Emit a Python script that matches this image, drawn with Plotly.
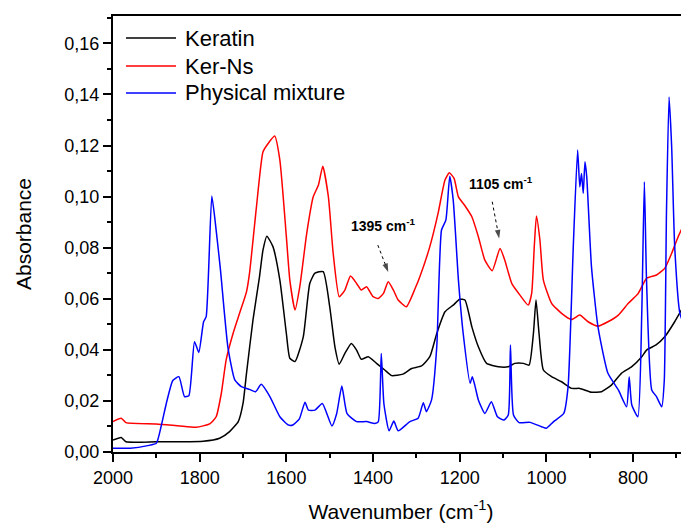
import plotly.graph_objects as go

# ---- data (wavenumber cm-1, absorbance) ----
keratin = [(2000,0.0047),(1981,0.0057),(1970,0.0040),(1900,0.0040),(1846,0.0040),(1792,0.0042),
           (1754,0.0054),(1731,0.0080),(1711,0.0119),(1700,0.0190),(1692,0.0308),(1677,0.0517),
           (1662,0.0686),(1654,0.0790),(1645,0.0845),(1631,0.0804),(1615,0.0673),(1600,0.0464),
           (1592,0.0367),(1580,0.0354),(1561,0.0451),(1546,0.0660),(1534,0.0700),(1515,0.0706),
           (1500,0.0569),(1488,0.0412),(1478,0.0344),(1465,0.0386),(1450,0.0425),(1438,0.0399),
           (1427,0.0363),(1411,0.0373),(1392,0.0347),(1373,0.0321),(1357,0.0299),(1331,0.0305),
           (1311,0.0327),(1288,0.0337),(1269,0.0373),(1253,0.0464),(1234,0.0549),(1215,0.0575),
           (1200,0.0598),(1188,0.0595),(1172,0.0490),(1157,0.0412),(1138,0.0347),(1111,0.0334),
           (1088,0.0334),(1073,0.0347),(1053,0.0347),(1040,0.0340),(1030,0.0464),(1024,0.0595),
           (1017,0.0464),(1007,0.0321),(988,0.0295),(965,0.0275),(942,0.0249),(923,0.0249),
           (896,0.0234),(873,0.0236),(850,0.0262),(827,0.0308),(803,0.0334),(780,0.0373),
           (769,0.0399),(747,0.0419),(727,0.0451),(704,0.0510),(684,0.0569),(671,0.0608)]

ker_ns = [(2000,0.0119),(1981,0.0132),(1970,0.0115),(1900,0.0110),(1846,0.0102),(1808,0.0097),
          (1777,0.0110),(1762,0.0138),(1750,0.0230),(1739,0.0360),(1723,0.0464),(1708,0.0543),
          (1692,0.0627),(1685,0.0700),(1669,0.0960),(1654,0.1175),(1642,0.1208),(1627,0.1237),
          (1615,0.1143),(1600,0.0843),(1592,0.0673),(1580,0.0556),(1569,0.0647),(1553,0.0856),
          (1538,0.0999),(1526,0.1045),(1516,0.1119),(1503,0.0999),(1492,0.0778),(1478,0.0608),
          (1465,0.0634),(1452,0.0689),(1438,0.0660),(1427,0.0634),(1415,0.0647),(1400,0.0608),
          (1388,0.0601),(1376,0.0621),(1365,0.0667),(1353,0.0634),(1342,0.0595),(1323,0.0569),
          (1303,0.0640),(1292,0.0686),(1269,0.0804),(1250,0.0934),(1234,0.1065),(1224,0.1093),
          (1213,0.1071),(1203,0.0999),(1188,0.0964),(1172,0.0921),(1157,0.0843),(1142,0.0751),
          (1125,0.0710),(1107,0.0797),(1096,0.0751),(1080,0.0660),(1061,0.0614),(1042,0.0575),
          (1034,0.0621),(1028,0.0804),(1023,0.0924),(1015,0.0830),(1007,0.0673),(988,0.0582),
          (965,0.0543),(942,0.0519),(923,0.0536),(904,0.0510),(881,0.0493),(858,0.0510),
          (834,0.0536),(811,0.0582),(788,0.0621),(769,0.0680),(746,0.0693),(727,0.0719),
          (711,0.0778),(696,0.0843),(671,0.0934)]

physical_mixture = [(2000,0.0015),(1960,0.0015),(1920,0.0025),(1900,0.0034),(1889,0.0100),(1877,0.0190),
                    (1862,0.0280),(1848,0.0295),(1835,0.0217),(1825,0.0220),(1812,0.0432),(1802,0.0390),
                    (1791,0.0510),(1785,0.0530),(1772,0.1002),(1762,0.0869),(1752,0.0712),(1735,0.0412),
                    (1719,0.0282),(1704,0.0256),(1685,0.0245),(1671,0.0236),(1658,0.0265),(1638,0.0217),
                    (1615,0.0138),(1596,0.0106),(1585,0.0106),(1570,0.0130),(1557,0.0195),(1549,0.0164),
                    (1534,0.0164),(1517,0.0190),(1495,0.0102),(1484,0.0150),(1472,0.0258),(1460,0.0150),
                    (1438,0.0119),(1415,0.0119),(1396,0.0112),(1388,0.0118),(1381,0.0386),(1375,0.0190),
                    (1363,0.0083),(1352,0.0121),(1342,0.0083),(1315,0.0119),(1296,0.0132),(1284,0.0193),
                    (1277,0.0158),(1265,0.0204),(1253,0.0412),(1242,0.0869),(1232,0.0908),(1223,0.1080),
                    (1215,0.0986),(1203,0.0673),(1192,0.0464),(1176,0.0269),(1171,0.0295),(1165,0.0260),
                    (1157,0.0204),(1142,0.0151),(1127,0.0197),(1113,0.0138),(1098,0.0125),(1088,0.0145),
                    (1083,0.0419),(1076,0.0145),(1063,0.0115),(1038,0.0116),(1011,0.0099),(1000,0.0093),
                    (984,0.0118),(960,0.0151),(950,0.0256),(938,0.0804),(928,0.1182),(923,0.1038),
                    (919,0.1090),(915,0.1013),(911,0.1136),(907,0.1078),(896,0.0725),(881,0.0490),
                    (858,0.0308),(834,0.0243),(815,0.0177),(809,0.0295),(803,0.0184),(789,0.0138),
                    (780,0.0543),(774,0.1058),(769,0.0673),(757,0.0243),(746,0.0217),(734,0.0177),
                    (728,0.0282),(723,0.0934),(717,0.1390),(711,0.1195),(704,0.0804),(692,0.0543),
                    (671,0.0451)]

series_names = ["Keratin", "Ker-Ns", "Physical mixture"]
series_data = [keratin, ker_ns, physical_mixture]
series_colors = ["#000000", "#ff0000", "#0000ff"]

x_ticks = [2000, 1800, 1600, 1400, 1200, 1000, 800]
y_ticks = [0.00, 0.02, 0.04, 0.06, 0.08, 0.10, 0.12, 0.14, 0.16]

# peak labels: text, label position, arrow tail, arrow head
peak_labels = ["1395 cm<sup>-1</sup>", "1105 cm<sup>-1</sup>"]
peak_label_pos = [(1375, 0.0888), (1104, 0.1053)]
peak_arrow_tail = [(1389, 0.0810), (1125, 0.0980)]
peak_arrow_head = [(1365, 0.0705), (1109, 0.0836)]

FONT = "Liberation Sans, Arial, sans-serif"

fig = go.Figure()
for name, data, color in zip(series_names, series_data, series_colors):
    wn, ab = zip(*data)
    fig.add_trace(go.Scatter(x=list(wn), y=list(ab), mode="lines", name=name,
                             line=dict(color=color, width=1.5, shape="spline", smoothing=0.5),
                             showlegend=False))

# manual legend (long line samples like the original)
legend_rows = [0.9495, 0.8853, 0.8234]
for name, color, yy in zip(series_names, series_colors, legend_rows):
    fig.add_shape(type="line", xref="paper", yref="paper", x0=0.0226, x1=0.1094, y0=yy, y1=yy,
                  line=dict(color=color, width=1.5))
    fig.add_annotation(xref="paper", yref="paper", x=0.1215, y=yy, text=name, showarrow=False,
                       xanchor="left", yanchor="middle", font=dict(family=FONT, size=22, color="black"))

# peak annotations with dotted arrows
for txt, pos, tail, head in zip(peak_labels, peak_label_pos, peak_arrow_tail, peak_arrow_head):
    fig.add_annotation(x=pos[0], y=pos[1], text="<b>" + txt + "</b>", showarrow=False,
                       xanchor="center", yanchor="middle",
                       font=dict(family=FONT, size=14, color="black"), xref="x", yref="y")
    fig.add_trace(go.Scatter(x=[tail[0], head[0]], y=[tail[1], head[1]], mode="lines+markers",
                             line=dict(color="black", width=1, dash="dot"),
                             marker=dict(symbol="arrow", size=[0, 9], angleref="previous",
                                         color="black", line=dict(width=0)),
                             showlegend=False, hoverinfo="skip"))

fig.update_layout(
    width=681, height=515,
    margin=dict(l=105, r=0, t=8, b=71),
    paper_bgcolor="white", plot_bgcolor="white",
    separators=",.",
    font=dict(family=FONT, color="black"),
    showlegend=False,
    xaxis=dict(range=[2000, 671], tickvals=x_ticks, ticks="outside", ticklen=8, tickwidth=1.5,
               tickcolor="black", showline=True, linecolor="black", linewidth=2, mirror=True,
               showgrid=False, zeroline=False, tickfont=dict(size=18),
               minor=dict(dtick=100, ticks="outside", ticklen=4, tickwidth=1.5, tickcolor="black", showgrid=False),
               title=dict(text="Wavenumber (cm<sup>-1</sup>)", font=dict(size=21), standoff=18)),
    yaxis=dict(range=[0, 0.1707], tickvals=y_ticks, tickformat=".2f", ticks="outside", ticklen=8,
               tickwidth=1.5, tickcolor="black", showline=True, linecolor="black", linewidth=2,
               mirror=False, showgrid=False, zeroline=False, tickfont=dict(size=18),
               minor=dict(dtick=0.01, ticks="outside", ticklen=4, tickwidth=1.5, tickcolor="black", showgrid=False),
               title=dict(text="Absorbance", font=dict(size=21), standoff=27)),
)

fig.write_html("out.html")
